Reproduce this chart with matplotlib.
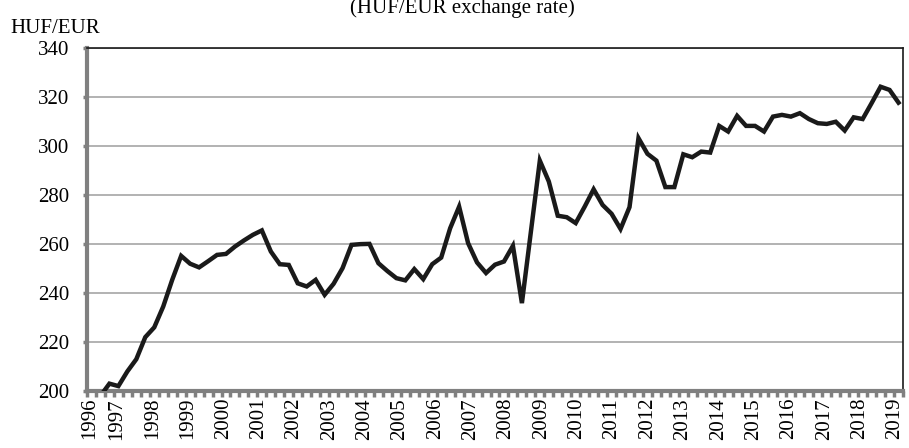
import numpy as np
import matplotlib
matplotlib.use('Agg')
import matplotlib.pyplot as plt

plt.rcParams['font.family'] = ['Liberation Serif', 'DejaVu Serif']

# quarterly HUF/EUR exchange rate (1996 Q3 - 2019 Q1)
huf_eur = [194, 198, 203, 202, 208, 213, 222, 226, 234.5, 245.4,
           255.2, 252, 250.5, 253, 255.6, 256, 259, 261.5, 263.8, 265.6,
           257, 251.8, 251.5, 244, 242.7, 245.4, 239.3, 243.8, 250.2, 259.7,
           260, 260.1, 252.2, 249, 246.1, 245.2, 249.8, 245.7, 251.8, 254.5,
           266.5, 275.3, 260.4, 252.5, 248.2, 251.6, 252.9, 259.3, 235.9, 265,
           294.1, 285.6, 271.6, 271, 268.6, 275.3, 282.4, 276, 272.4, 266.2,
           275.1, 303.3, 296.9, 294.1, 283.3, 283.3, 296.7, 295.5, 297.8, 297.4,
           308.3, 306, 312.4, 308.3, 308.3, 306, 312.1, 312.8, 312.1, 313.5,
           311.1, 309.4, 309.1, 310, 306.4, 311.8, 311.1, 317.6, 324.3, 323,
           317.8]
years = [str(y) for y in range(1996, 2020)]
y_ticks = [200, 220, 240, 260, 280, 300, 320, 340]

x = np.arange(len(huf_eur))
fs = 15

fig = plt.figure(figsize=(9.09, 4.48), dpi=100)
ax = fig.add_axes([87 / 909, 1 - 391 / 448, 816 / 909, (391 - 48.3) / 448])

ax.plot(x, huf_eur, color='#1a1a1a', lw=3.2, solid_joinstyle='miter', zorder=3)

ax.set_xlim(-0.5, len(huf_eur) - 0.5)
ax.set_ylim(200, 340)
ax.set_yticks(y_ticks)
ax.yaxis.grid(True, color='#a6a6a6', lw=1.2)
ax.set_axisbelow(True)

# year labels (first one sits at the left edge, the rest roughly every 4 quarters)
label_pos = np.concatenate([[-0.25], np.linspace(2.86, 89.6, len(years) - 1)])
ax.set_xticks(label_pos)
ax.set_xticklabels(years, rotation=90, fontsize=fs)
ax.tick_params(axis='x', length=0, pad=5)
ax.set_xticks(np.arange(-0.5, len(huf_eur)), minor=True)
ax.tick_params(axis='x', which='minor', length=4, width=2.5, color='#808080')
ax.tick_params(axis='y', labelsize=fs, length=3, width=2.5, color='#808080', pad=10)

for side in ['left', 'bottom']:
    ax.spines[side].set_color('#808080')
    ax.spines[side].set_linewidth(3)
for side in ['top', 'right']:
    ax.spines[side].set_color('#1a1a1a')
    ax.spines[side].set_linewidth(1.2)

fig.text(10 / 909, 1 - 33 / 448, 'HUF/EUR', fontsize=fs, va='baseline', ha='left')
fig.text(462 / 909, 1 - 13 / 448, '(HUF/EUR exchange rate)', fontsize=fs,
         va='baseline', ha='center')

fig.savefig('out.png', dpi=100)
